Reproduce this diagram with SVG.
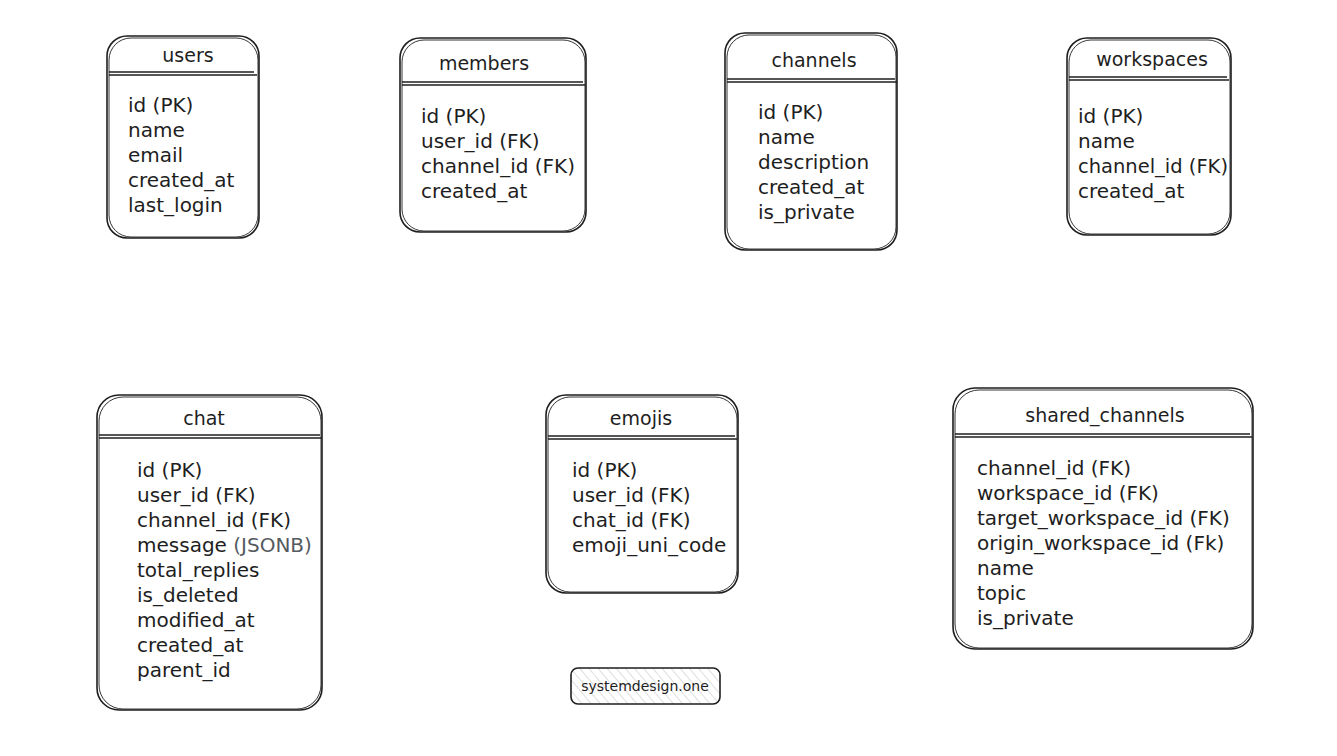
<svg xmlns="http://www.w3.org/2000/svg" width="1337" height="756" viewBox="0 0 1337 756">
  <defs>
    <pattern id="hatch" patternUnits="userSpaceOnUse" width="7" height="7" patternTransform="rotate(-40)">
      <line x1="0" y1="0" x2="0" y2="7" stroke="#c8c8c8" stroke-width="1.2"/>
    </pattern>
  </defs>
  <style>
    .box { fill: #ffffff; stroke: #1e1e1e; stroke-width: 1.6; }
    .box2 { fill: none; stroke: #1e1e1e; stroke-width: 0.9; }
    .div { stroke: #1e1e1e; stroke-width: 1.3; }
    .title { font-family: "DejaVu Sans", sans-serif; font-size: 19px; fill: #1e1e1e; text-anchor: middle; }
    .row { font-family: "DejaVu Sans", sans-serif; font-size: 20px; fill: #1e1e1e; }
    .gray { fill: #555a60; }
    .badge { font-family: "DejaVu Sans", sans-serif; font-size: 14px; fill: #1e1e1e; text-anchor: middle; }
  </style>
  <rect width="1337" height="756" fill="#ffffff"/>

  <g id="users">
    <rect class="box" x="107" y="36" width="152" height="202" rx="20"/>
    <rect class="box2" x="109" y="38" width="149" height="199" rx="22"/>
    <line class="div" x1="109" y1="72" x2="254" y2="72"/>
    <line class="div" x1="109" y1="75" x2="257" y2="75"/>
    <text class="title" x="188" y="62">users</text>
    <text class="row" x="128" y="112">id (PK)</text>
    <text class="row" x="128" y="137">name</text>
    <text class="row" x="128" y="162">email</text>
    <text class="row" x="128" y="187">created_at</text>
    <text class="row" x="128" y="212">last_login</text>
  </g>

  <g id="members">
    <rect class="box" x="400" y="38" width="186" height="194" rx="20"/>
    <rect class="box2" x="402" y="40" width="183" height="191" rx="22"/>
    <line class="div" x1="402" y1="82" x2="583" y2="82"/>
    <line class="div" x1="402" y1="85" x2="585" y2="85"/>
    <text class="title" x="484" y="70">members</text>
    <text class="row" x="421" y="123">id (PK)</text>
    <text class="row" x="421" y="148">user_id (FK)</text>
    <text class="row" x="421" y="173">channel_id (FK)</text>
    <text class="row" x="421" y="198">created_at</text>
  </g>

  <g id="channels">
    <rect class="box" x="725" y="33" width="172" height="217" rx="20"/>
    <rect class="box2" x="727" y="35" width="169" height="214" rx="22"/>
    <line class="div" x1="727" y1="79" x2="895" y2="79"/>
    <line class="div" x1="727" y1="82" x2="897" y2="82"/>
    <text class="title" x="814" y="67">channels</text>
    <text class="row" x="758" y="119">id (PK)</text>
    <text class="row" x="758" y="144">name</text>
    <text class="row" x="758" y="169">description</text>
    <text class="row" x="758" y="194">created_at</text>
    <text class="row" x="758" y="219">is_private</text>
  </g>

  <g id="workspaces">
    <rect class="box" x="1067" y="38" width="164" height="197" rx="20"/>
    <rect class="box2" x="1069" y="40" width="161" height="194" rx="22"/>
    <line class="div" x1="1069" y1="77" x2="1227" y2="77"/>
    <line class="div" x1="1069" y1="80" x2="1229" y2="80"/>
    <text class="title" x="1152" y="66">workspaces</text>
    <text class="row" x="1078" y="123">id (PK)</text>
    <text class="row" x="1078" y="148">name</text>
    <text class="row" x="1078" y="173" textLength="150" lengthAdjust="spacingAndGlyphs">channel_id (FK)</text>
    <text class="row" x="1078" y="198">created_at</text>
  </g>

  <g id="chat">
    <rect class="box" x="97" y="395" width="225" height="315" rx="22"/>
    <rect class="box2" x="99" y="397" width="222" height="312" rx="24"/>
    <line class="div" x1="99" y1="435" x2="320" y2="435"/>
    <line class="div" x1="99" y1="438" x2="322" y2="438"/>
    <text class="title" x="204" y="425">chat</text>
    <text class="row" x="137" y="477">id (PK)</text>
    <text class="row" x="137" y="502">user_id (FK)</text>
    <text class="row" x="137" y="527">channel_id (FK)</text>
    <text class="row" x="137" y="552">message <tspan class="gray">(JSONB)</tspan></text>
    <text class="row" x="137" y="577">total_replies</text>
    <text class="row" x="137" y="602">is_deleted</text>
    <text class="row" x="137" y="627">modified_at</text>
    <text class="row" x="137" y="652">created_at</text>
    <text class="row" x="137" y="677">parent_id</text>
  </g>

  <g id="emojis">
    <rect class="box" x="546" y="395" width="192" height="198" rx="20"/>
    <rect class="box2" x="548" y="397" width="189" height="195" rx="22"/>
    <line class="div" x1="548" y1="436" x2="735" y2="436"/>
    <line class="div" x1="548" y1="439" x2="737" y2="439"/>
    <text class="title" x="641" y="425">emojis</text>
    <text class="row" x="572" y="477">id (PK)</text>
    <text class="row" x="572" y="502">user_id (FK)</text>
    <text class="row" x="572" y="527">chat_id (FK)</text>
    <text class="row" x="572" y="552">emoji_uni_code</text>
  </g>

  <g id="shared_channels">
    <rect class="box" x="953" y="388" width="300" height="261" rx="22"/>
    <rect class="box2" x="955" y="390" width="297" height="258" rx="24"/>
    <line class="div" x1="955" y1="434" x2="1250" y2="434"/>
    <line class="div" x1="955" y1="437" x2="1252" y2="437"/>
    <text class="title" x="1105" y="422">shared_channels</text>
    <text class="row" x="977" y="475">channel_id (FK)</text>
    <text class="row" x="977" y="500">workspace_id (FK)</text>
    <text class="row" x="977" y="525">target_workspace_id (FK)</text>
    <text class="row" x="977" y="550">origin_workspace_id (Fk)</text>
    <text class="row" x="977" y="575">name</text>
    <text class="row" x="977" y="600">topic</text>
    <text class="row" x="977" y="625">is_private</text>
  </g>

  <g id="badge">
    <rect x="571" y="668" width="149" height="36" rx="7" fill="url(#hatch)" stroke="#1e1e1e" stroke-width="1.6"/>
    <text class="badge" x="645" y="691">systemdesign.one</text>
  </g>

  <g id="connectors"/>
</svg>
